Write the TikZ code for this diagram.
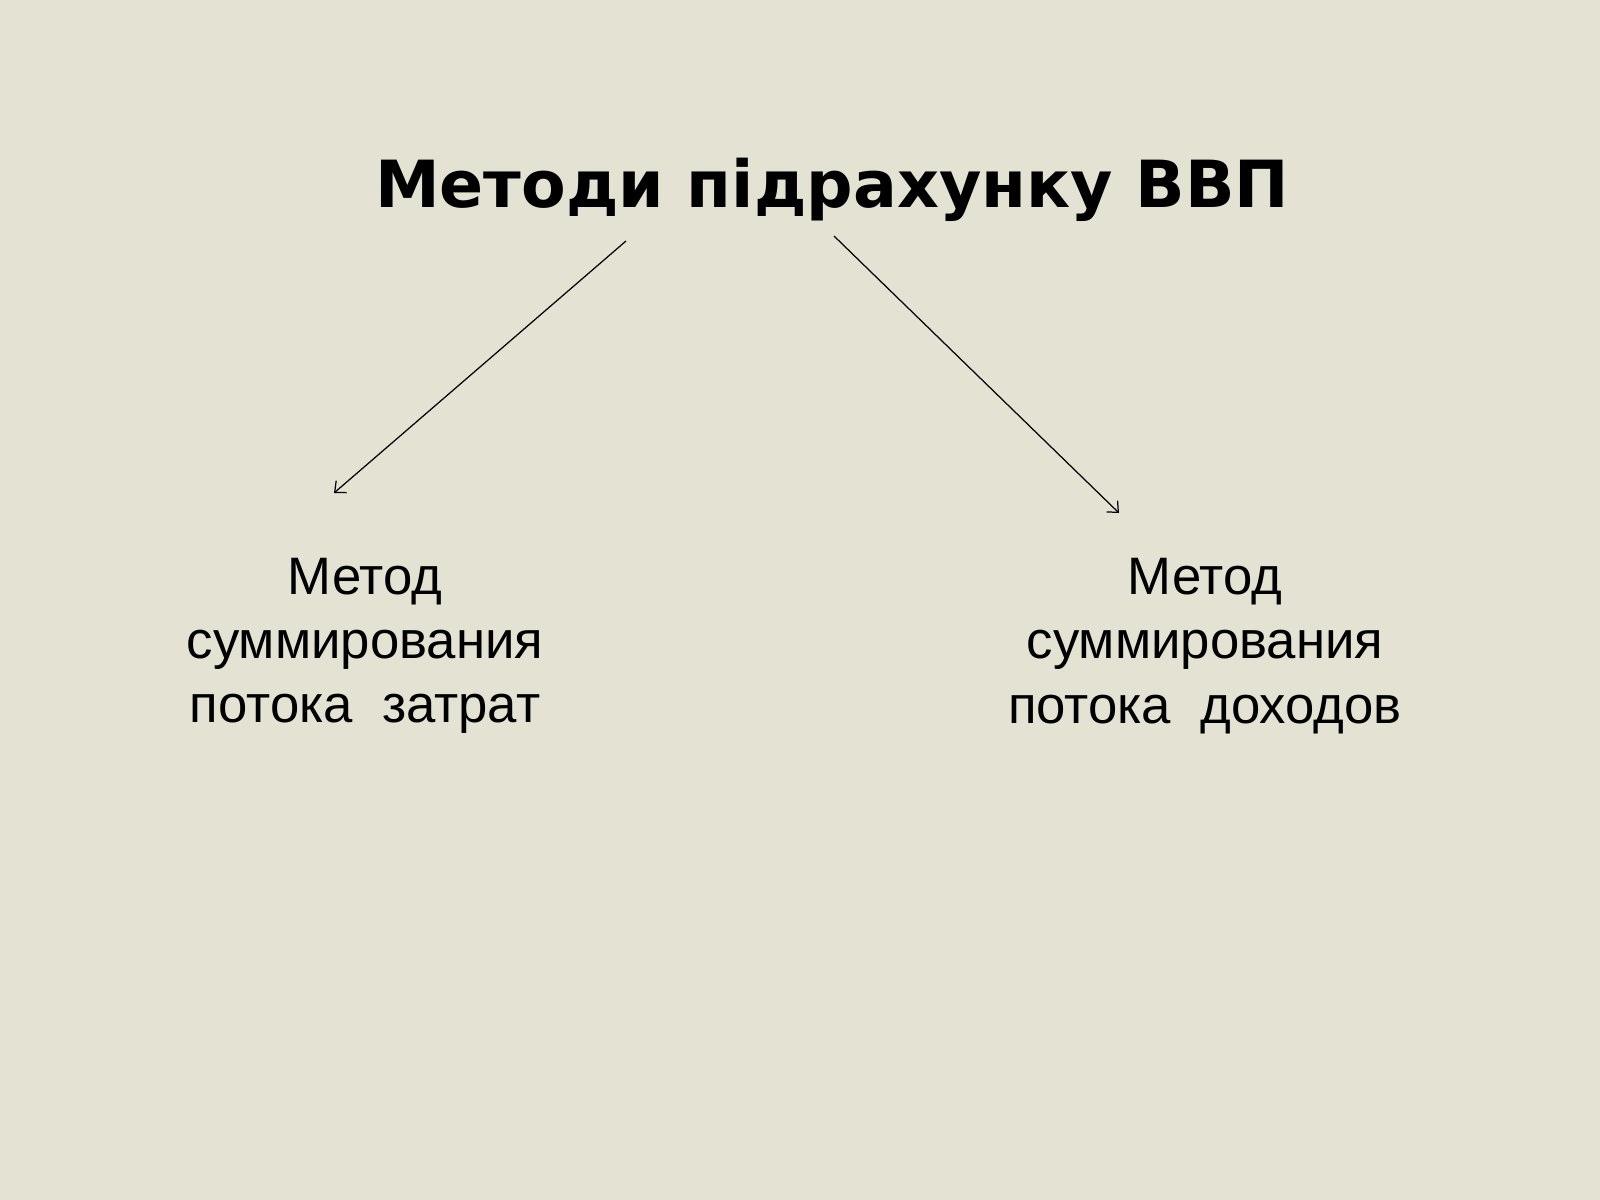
\documentclass[tikz,border=0pt]{standalone}
\usepackage{fontspec}
\setmainfont{Liberation Sans}
\newfontfamily\titlefont{DejaVu Sans}
\usetikzlibrary{arrows.meta}
\definecolor{bg}{RGB}{228,226,210}
\begin{document}
\begin{tikzpicture}[x=0.02cm,y=-0.02cm,
  conn/.style={draw=black,line width=0.7pt,-{Straight Barb[length=5pt,width=9pt]}},
  body/.style={align=center,font=\fontsize{30}{36.5}\selectfont,inner sep=0pt}]
\fill[bg] (0,0) rectangle (1600,1200);
\useasboundingbox (0,0) rectangle (1600,1200);
\node[font=\titlefont\bfseries\fontsize{37}{44}\selectfont,inner sep=0pt] (title) at (832,190) {Методи підрахунку ВВП};
\node[body] (left) at (365,646) {Метод\\суммирования\\потока \ затрат};
\node[body] (right) at (1205,646) {Метод\\суммирования\\потока \ доходов};
\coordinate (s1) at (626,241);
\coordinate (e1) at (334,493);
\coordinate (s2) at (834,236);
\coordinate (e2) at (1119,513);
\draw[conn] (s1) -- (e1);
\draw[conn] (s2) -- (e2);
\end{tikzpicture}
\end{document}
